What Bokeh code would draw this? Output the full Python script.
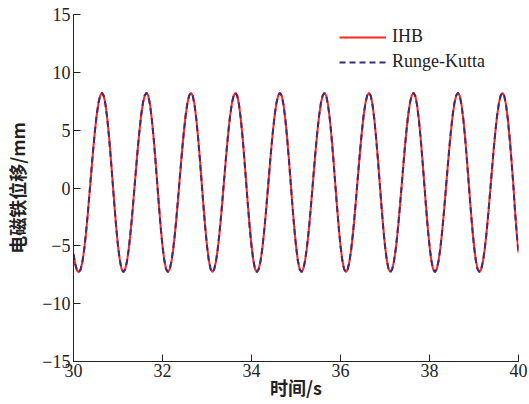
import numpy as np
from bokeh.plotting import figure
from bokeh.models import Legend, LegendItem, FixedTicker
from bokeh.embed import file_html
from bokeh.resources import INLINE

# ---- data ----
time_s = np.linspace(30.0, 40.0, 251)   # sampling grid, 0.04 s

ihb_mm = [
    -5.70, -6.60, -7.15,
    -7.27, -7.05, -6.38, -5.32, -3.92, -2.27, -0.45, 1.41, 3.23, 4.88, 6.28, 7.34, 8.00, 8.23, 7.97, 7.19, 5.96, 4.36, 2.49, 0.48, -1.53, -3.40, -5.00, -6.23, -7.01,
    -7.27, -7.05, -6.38, -5.32, -3.92, -2.27, -0.45, 1.41, 3.23, 4.88, 6.28, 7.34, 8.00, 8.23, 7.97, 7.19, 5.96, 4.36, 2.49, 0.48, -1.53, -3.40, -5.00, -6.23, -7.01,
    -7.27, -7.05, -6.38, -5.32, -3.92, -2.27, -0.45, 1.41, 3.23, 4.88, 6.28, 7.34, 8.00, 8.23, 7.97, 7.19, 5.96, 4.36, 2.49, 0.48, -1.53, -3.40, -5.00, -6.23, -7.01,
    -7.27, -7.05, -6.38, -5.32, -3.92, -2.27, -0.45, 1.41, 3.23, 4.88, 6.28, 7.34, 8.00, 8.23, 7.97, 7.19, 5.96, 4.36, 2.49, 0.48, -1.53, -3.40, -5.00, -6.23, -7.01,
    -7.27, -7.05, -6.38, -5.32, -3.92, -2.27, -0.45, 1.41, 3.23, 4.88, 6.28, 7.34, 8.00, 8.23, 7.97, 7.19, 5.96, 4.36, 2.49, 0.48, -1.53, -3.40, -5.00, -6.23, -7.01,
    -7.27, -7.05, -6.38, -5.32, -3.92, -2.27, -0.45, 1.41, 3.23, 4.88, 6.28, 7.34, 8.00, 8.23, 7.97, 7.19, 5.96, 4.36, 2.49, 0.48, -1.53, -3.40, -5.00, -6.23, -7.01,
    -7.27, -7.05, -6.38, -5.32, -3.92, -2.27, -0.45, 1.41, 3.23, 4.88, 6.28, 7.34, 8.00, 8.23, 7.97, 7.19, 5.96, 4.36, 2.49, 0.48, -1.53, -3.40, -5.00, -6.23, -7.01,
    -7.27, -7.05, -6.38, -5.32, -3.92, -2.27, -0.45, 1.41, 3.23, 4.88, 6.28, 7.34, 8.00, 8.23, 7.97, 7.19, 5.96, 4.36, 2.49, 0.48, -1.53, -3.40, -5.00, -6.23, -7.01,
    -7.27, -7.05, -6.38, -5.32, -3.92, -2.27, -0.45, 1.41, 3.23, 4.88, 6.28, 7.34, 8.00, 8.23, 7.97, 7.19, 5.96, 4.36, 2.49, 0.48, -1.53, -3.40, -5.00, -6.23, -7.01,
    -7.27, -7.05, -6.38, -5.32, -3.92, -2.27, -0.45, 1.41, 3.23, 4.88, 6.28, 7.34, 8.00, 8.23, 7.97, 7.19, 5.96, 4.36, 2.49, 0.48, -1.90, -3.90, -5.60,
]

rk_mm = [
    -5.70, -6.60, -7.15,
    -7.27, -7.05, -6.38, -5.32, -3.92, -2.27, -0.45, 1.41, 3.23, 4.88, 6.28, 7.34, 8.00, 8.23, 7.97, 7.19, 5.96, 4.36, 2.49, 0.48, -1.53, -3.40, -5.00, -6.23, -7.01,
    -7.27, -7.05, -6.38, -5.32, -3.92, -2.27, -0.45, 1.41, 3.23, 4.88, 6.28, 7.34, 8.00, 8.23, 7.97, 7.19, 5.96, 4.36, 2.49, 0.48, -1.53, -3.40, -5.00, -6.23, -7.01,
    -7.27, -7.05, -6.38, -5.32, -3.92, -2.27, -0.45, 1.41, 3.23, 4.88, 6.28, 7.34, 8.00, 8.23, 7.97, 7.19, 5.96, 4.36, 2.49, 0.48, -1.53, -3.40, -5.00, -6.23, -7.01,
    -7.27, -7.05, -6.38, -5.32, -3.92, -2.27, -0.45, 1.41, 3.23, 4.88, 6.28, 7.34, 8.00, 8.23, 7.97, 7.19, 5.96, 4.36, 2.49, 0.48, -1.53, -3.40, -5.00, -6.23, -7.01,
    -7.27, -7.05, -6.38, -5.32, -3.92, -2.27, -0.45, 1.41, 3.23, 4.88, 6.28, 7.34, 8.00, 8.23, 7.97, 7.19, 5.96, 4.36, 2.49, 0.48, -1.53, -3.40, -5.00, -6.23, -7.01,
    -7.27, -7.05, -6.38, -5.32, -3.92, -2.27, -0.45, 1.41, 3.23, 4.88, 6.28, 7.34, 8.00, 8.23, 7.97, 7.19, 5.96, 4.36, 2.49, 0.48, -1.53, -3.40, -5.00, -6.23, -7.01,
    -7.27, -7.05, -6.38, -5.32, -3.92, -2.27, -0.45, 1.41, 3.23, 4.88, 6.28, 7.34, 8.00, 8.23, 7.97, 7.19, 5.96, 4.36, 2.49, 0.48, -1.53, -3.40, -5.00, -6.23, -7.01,
    -7.27, -7.05, -6.38, -5.32, -3.92, -2.27, -0.45, 1.41, 3.23, 4.88, 6.28, 7.34, 8.00, 8.23, 7.97, 7.19, 5.96, 4.36, 2.49, 0.48, -1.53, -3.40, -5.00, -6.23, -7.01,
    -7.27, -7.05, -6.38, -5.32, -3.92, -2.27, -0.45, 1.41, 3.23, 4.88, 6.28, 7.34, 8.00, 8.23, 7.97, 7.19, 5.96, 4.36, 2.49, 0.48, -1.53, -3.40, -5.00, -6.23, -7.01,
    -7.27, -7.05, -6.38, -5.32, -3.92, -2.27, -0.45, 1.41, 3.23, 4.88, 6.28, 7.34, 8.00, 8.23, 7.97, 7.19, 5.96, 4.36, 2.49, 0.48, -1.90, -3.90, -5.60,
]

series_names = ["IHB", "Runge-Kutta"]
x_ticks = [30, 32, 34, 36, 38, 40]
y_ticks = [-15, -10, -5, 0, 5, 10, 15]
y_tick_labels = {-15: "\u221215", -10: "\u221210", -5: "\u22125", 0: "0", 5: "5", 10: "10", 15: "15"}
x_label = "时间/s"
y_label = "电磁铁位移/mm"

# ---- figure ----
p = figure(width=529, height=404, x_range=(30, 40), y_range=(-15, 15),
           output_backend="svg", toolbar_location=None,
           min_border_left=73, min_border_right=11, min_border_top=14, min_border_bottom=43,
           background_fill_color="white", border_fill_color="white")
p.outline_line_color = None
p.grid.visible = False

r_ihb = p.line(time_s, ihb_mm, line_color="#ff2a1a", line_width=2)
r_rk = p.line(time_s, rk_mm, line_color="#3b2a80", line_width=2, line_dash="6 4")

serif = "Liberation Serif"
for ax in (p.xaxis[0], p.yaxis[0]):
    ax.major_tick_in = 7
    ax.major_tick_out = 0
    ax.minor_tick_in = 0
    ax.minor_tick_out = 0
    ax.axis_line_color = "#222222"
    ax.major_tick_line_color = "#222222"
    ax.major_label_text_font = serif
    ax.major_label_text_font_size = "18px"
    ax.major_label_text_color = "#222222"
    ax.axis_label_text_font = "Noto Sans CJK SC"
    ax.axis_label_text_font_style = "bold"
    ax.axis_label_text_font_size = "18px"
    ax.axis_label_text_color = "#222222"

p.xaxis[0].ticker = FixedTicker(ticks=x_ticks)
p.yaxis[0].ticker = FixedTicker(ticks=y_ticks)
p.yaxis[0].major_label_overrides = y_tick_labels
p.xaxis[0].major_label_standoff = 2
p.yaxis[0].major_label_standoff = 3
p.xaxis[0].axis_label = x_label
p.yaxis[0].axis_label = y_label
p.xaxis[0].axis_label_standoff = -6
p.yaxis[0].axis_label_standoff = 9

legend = Legend(items=[LegendItem(label=series_names[0], renderers=[r_ihb]),
                       LegendItem(label=series_names[1], renderers=[r_rk])],
                location=(266, 289), border_line_color=None, background_fill_alpha=0,
                padding=0, margin=0, spacing=4, glyph_width=47, glyph_height=20,
                label_height=20, label_standoff=6,
                label_text_font=serif, label_text_font_size="18px",
                label_text_color="#222222")
p.add_layout(legend)

open("out.html", "w").write(file_html(p, INLINE))
